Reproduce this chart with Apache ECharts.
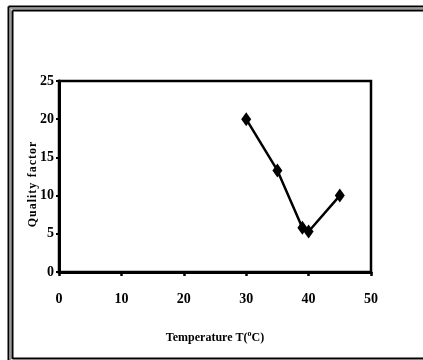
<!DOCTYPE html>
<html><head><meta charset="utf-8">
<script src="https://cdn.jsdelivr.net/npm/echarts@6/dist/echarts.min.js"></script>
<style>html,body{margin:0;padding:0;background:#fff}#c{width:423px;height:360px}</style>
</head><body><div id="c"></div>
<script>
const temperatures = [30, 35, 39, 40, 45];
const qualityFactor = [20, 13.3, 5.8, 5.3, 10];
const xTicks = [0, 10, 20, 30, 40, 50];
const yTicks = [0, 5, 10, 15, 20, 25];

const FONT = '"Liberation Serif", "Times New Roman", serif';
const chart = echarts.init(document.getElementById('c'), null, {renderer: 'canvas'});
chart.setOption({
  animation: false,
  backgroundColor: '#fff',
  grid: {left: 59, top: 81, right: 52, bottom: 88, show: true, borderColor: '#000', borderWidth: 2.5, backgroundColor: 'transparent'},
  xAxis: {
    type: 'value', min: xTicks[0], max: xTicks[xTicks.length-1], interval: 10,
    name: 'Temperature T({sup|o}C)', nameLocation: 'middle', nameGap: 58,
    nameTextStyle: {fontFamily: FONT, fontWeight: 'bold', fontSize: 12, color: '#000',
      rich: {sup: {fontFamily: FONT, fontWeight: 'bold', fontSize: 8, color: '#000', verticalAlign: 'top', padding: [0,0,7,0]}}},
    axisLine: {show: true, lineStyle: {color: '#000', width: 3}},
    axisTick: {show: true, inside: false, length: 4, lineStyle: {color: '#000', width: 2.5}},
    axisLabel: {fontFamily: FONT, fontWeight: 'bold', fontSize: 14, color: '#000', margin: 20},
    splitLine: {show: false}
  },
  yAxis: {
    type: 'value', min: yTicks[0], max: yTicks[yTicks.length-1], interval: 5,
    name: 'Q\u200Au\u200Aa\u200Al\u200Ai\u200At\u200Ay\u2009 f\u200Aa\u200Ac\u200At\u200Ao\u200Ar', nameLocation: 'middle', nameGap: 20, nameRotate: 90,
    nameMoveOverlap: false,
    nameTextStyle: {fontFamily: FONT, fontWeight: 'bold', fontSize: 12, color: '#000', padding: [0, 16, 0, 0]},
    axisLine: {show: true, lineStyle: {color: '#000', width: 3}},
    axisTick: {show: true, inside: false, length: 3, lineStyle: {color: '#000', width: 2}},
    axisLabel: {fontFamily: FONT, fontWeight: 'bold', fontSize: 14, color: '#000', margin: 5},
    splitLine: {show: false}
  },
  series: [{
    type: 'line',
    data: temperatures.map((t, i) => [t, qualityFactor[i]]),
    symbol: 'diamond', symbolSize: [10, 14],
    itemStyle: {color: '#000'},
    lineStyle: {color: '#000', width: 2.5}
  }],
  graphic: [
    {type: 'line', shape: {x1: 8.5, y1: 6.5, x2: 423, y2: 6.5}, style: {stroke: '#000', lineWidth: 2}},
    {type: 'line', shape: {x1: 8.5, y1: 6.5, x2: 8.5, y2: 360}, style: {stroke: '#000', lineWidth: 2}},
    {type: 'line', shape: {x1: 10.5, y1: 8.5, x2: 423, y2: 8.5}, style: {stroke: '#999', lineWidth: 1.5}},
    {type: 'line', shape: {x1: 10.5, y1: 8.5, x2: 10.5, y2: 360}, style: {stroke: '#999', lineWidth: 1.5}},
    {type: 'line', shape: {x1: 12.5, y1: 10.5, x2: 423, y2: 10.5}, style: {stroke: '#000', lineWidth: 2}},
    {type: 'line', shape: {x1: 12.5, y1: 10.5, x2: 12.5, y2: 359}, style: {stroke: '#000', lineWidth: 2}},
    {type: 'line', shape: {x1: 12.5, y1: 358.5, x2: 423, y2: 358.5}, style: {stroke: '#000', lineWidth: 2}}
  ]
});
</script></body></html>
